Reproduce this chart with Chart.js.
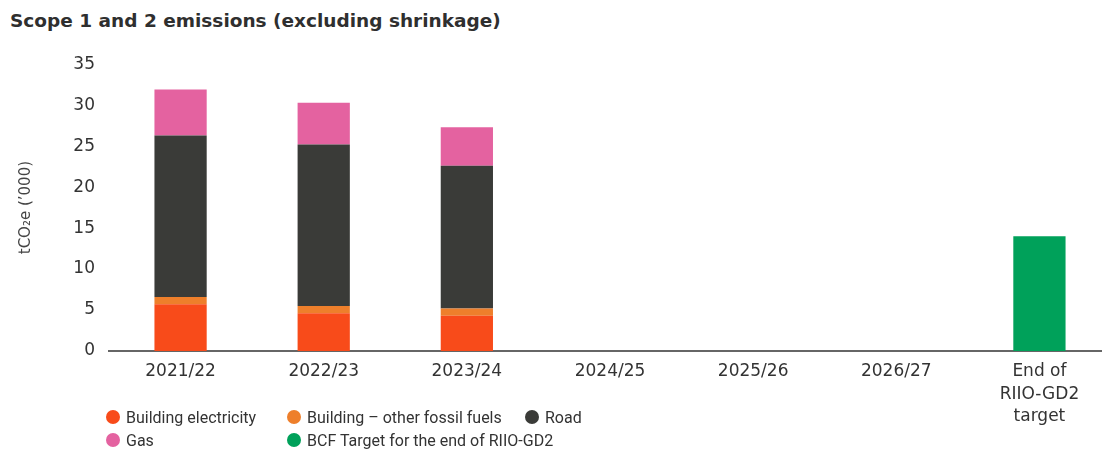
<!DOCTYPE html>
<html>
<head>
<meta charset="utf-8">
<script src="https://cdn.jsdelivr.net/npm/chart.js@4"></script>
<style>
  html, body { margin: 0; padding: 0; background: #fff; overflow: hidden; }
  body { width: 1102px; height: 453px; position: relative; }
  #title {
    position: absolute; left: 10px; top: 10px;
    font-family: "DejaVu Sans", sans-serif; font-weight: bold; font-size: 18.5px;
    color: #2f2f2f; white-space: nowrap;
  }
  #wrap { position: absolute; left: 0; top: 40px; width: 1111px; height: 391px; }
  #legend {
    position: absolute; left: 106px; top: 407px;
    font-family: "Roboto", sans-serif; font-size: 16px; color: #333;
  }
  .item { position: absolute; white-space: nowrap; display: flex; align-items: center; height: 20px; }
  .dot { width: 14px; height: 14px; border-radius: 50%; margin-right: 6px; }
</style>
</head>
<body>
<div id="title">Scope 1 and 2 emissions (excluding shrinkage)</div>
<div id="wrap"><canvas id="mainChart"></canvas></div>
<div id="legend"></div>
<script>
const categories = ['2021/22', '2022/23', '2023/24', '2024/25', '2025/26', '2026/27', ['End of', 'RIIO-GD2', 'target']];

const buildingElectricity = [5.7, 4.6, 4.3, null, null, null, null];
const buildingOtherFossil = [0.9, 0.9, 0.9, null, null, null, null];
const road = [19.7, 19.7, 17.4, null, null, null, null];
const gas = [5.6, 5.1, 4.7, null, null, null, null];
const bcfTarget = [null, null, null, null, null, null, 14.0];

const yTicks = [0, 5, 10, 15, 20, 25, 30, 35];

const series = [
  { label: 'Building electricity', data: buildingElectricity, color: '#f84b1a' },
  { label: 'Building \u2013 other fossil fuels', data: buildingOtherFossil, color: '#ee7f2b' },
  { label: 'Road', data: road, color: '#3a3b38' },
  { label: 'Gas', data: gas, color: '#e462a0' },
  { label: 'BCF Target for the end of RIIO-GD2', data: bcfTarget, color: '#00a15a' }
];

// legend placed as a grid like the original
const legendPos = [[0, 0], [181, 0], [419, 0], [0, 23], [181, 23]];
document.getElementById('legend').innerHTML = series.map((s, i) => `
  <div class="item" style="left:${legendPos[i][0]}px;top:${legendPos[i][1]}px">
    <span class="dot" style="background:${s.color}"></span>${s.label}
  </div>`).join('');

const textColor = '#333';
const ctx = document.getElementById('mainChart').getContext('2d');

new Chart(ctx, {
  type: 'bar',
  data: {
    labels: categories,
    datasets: series.map(s => ({
      label: s.label,
      data: s.data,
      backgroundColor: s.color,
      borderWidth: 0,
      categoryPercentage: 1,
      barPercentage: 0.365
    }))
  },
  options: {
    responsive: true,
    maintainAspectRatio: false,
    animation: false,
    layout: { padding: { top: 14, right: 0, bottom: 0, left: 0 } },
    plugins: { legend: { display: false }, tooltip: { enabled: false } },
    scales: {
      x: {
        stacked: true,
        grid: { display: false },
        border: { display: true, color: '#666', width: 2 },
        ticks: {
          color: textColor, padding: 2, maxRotation: 0, autoSkip: false,
          font: { family: 'DejaVu Sans', size: 17, lineHeight: 1.3 }
        },
        afterFit: scale => { scale.height = 80; }
      },
      y: {
        stacked: true,
        min: 0, max: 35,
        afterBuildTicks: scale => { scale.ticks = yTicks.map(v => ({ value: v })); },
        grid: { display: false, drawTicks: false },
        border: { display: false },
        ticks: {
          color: textColor, padding: 14,
          font: { family: 'DejaVu Sans', size: 17 }
        },
        title: {
          display: true,
          text: 'tCO\u2082e (\u2019000)',
          color: '#444',
          padding: { top: 17, bottom: 0 },
          font: { family: 'DejaVu Sans', size: 15 }
        },
        afterFit: scale => { scale.width = 109; }
      }
    }
  }
});
</script>
</body>
</html>
